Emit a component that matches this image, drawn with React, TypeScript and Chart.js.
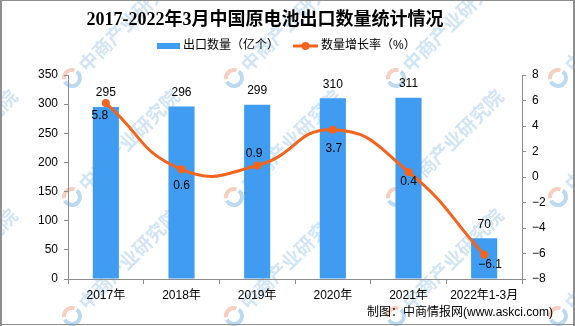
import React, { useEffect, useRef } from 'react';
import { Chart, registerables } from 'chart.js';

Chart.register(...registerables);

const categories = ['2017年', '2018年', '2019年', '2020年', '2021年', '2022年1-3月'];
const exportVolume = [295, 296, 299, 310, 311, 70];
const growthRate = [5.8, 0.6, 0.9, 3.7, 0.4, -6.1];
const volumeAxis = [0, 350, 50];
const rateAxis = [-8, 8, 2];

const TITLE = '2017-2022年3月中国原电池出口数量统计情况';
const LEGEND_BAR = '出口数量（亿个）';
const LEGEND_LINE = '数量增长率（%）';
const SOURCE = '制图：中商情报网(www.askci.com)';
const WATERMARK = '中商产业研究院';

const BAR_COLOR = '#3F9CF0';
const LINE_COLOR = '#F5641E';
const AXIS_COLOR = '#8C8C8C';
const NUM_FONT = "12px 'Liberation Sans', Arial, sans-serif";
const CJK_FONT = "12px 'Liberation Sans', 'Noto Sans CJK SC', sans-serif";

const fmtNum = (v: number) => String(v).replace('-', '−');

// label offsets for the growth-rate labels (relative to point)
const RATE_LABEL_OFFSETS = [
  [-6, 13],
  [0, 16],
  [-3, -12],
  [1, 19],
  [0, 10],
  [6, 10],
];

const WM_COLS = [-90, 72, 234, 396, 558];
const WM_ROWS = [78, 197, 316];

const decorPlugin = {
  id: 'decor',
  beforeDraw(chart: any) {
    const ctx = chart.ctx;
    ctx.save();
    for (const wx of WM_COLS) {
      for (const wy of WM_ROWS) {
        ctx.save();
        ctx.lineWidth = 4;
        ctx.strokeStyle = '#F6CFC0';
        ctx.beginPath();
        ctx.arc(wx, wy, 8, Math.PI * 0.95, Math.PI * 1.6);
        ctx.stroke();
        ctx.strokeStyle = '#BCD9F0';
        ctx.beginPath();
        ctx.arc(wx, wy, 8, Math.PI * 1.7, Math.PI * 2.85);
        ctx.stroke();
        ctx.translate(wx, wy);
        ctx.rotate(-Math.PI / 4);
        ctx.fillStyle = '#D2E5F5';
        ctx.font = "bold 19px 'Noto Sans CJK SC', sans-serif";
        ctx.textAlign = 'left';
        ctx.textBaseline = 'middle';
        ctx.fillText(WATERMARK, 14, 0);
        ctx.restore();
      }
    }
    ctx.restore();
  },
  afterDatasetsDraw(chart: any) {
    const ctx = chart.ctx;
    ctx.save();
    ctx.fillStyle = '#000';
    ctx.font = NUM_FONT;
    ctx.textAlign = 'center';
    ctx.textBaseline = 'middle';
    const barMeta = chart.getDatasetMeta(0);
    barMeta.data.forEach((el: any, i: number) => {
      ctx.fillText(fmtNum(exportVolume[i]), el.x, el.y - 14);
    });
    const lineMeta = chart.getDatasetMeta(1);
    lineMeta.data.forEach((el: any, i: number) => {
      const [dx, dy] = RATE_LABEL_OFFSETS[i];
      ctx.fillText(fmtNum(growthRate[i]), el.x + dx, el.y + dy);
    });
    ctx.restore();
  },
  afterDraw(chart: any) {
    const ctx = chart.ctx;
    const W = chart.width;
    const H = chart.height;
    ctx.save();
    // title
    ctx.fillStyle = '#000';
    ctx.textAlign = 'center';
    ctx.textBaseline = 'middle';
    ctx.font = "bold 18px 'Liberation Serif', 'Noto Sans CJK SC', serif";
    ctx.fillText(TITLE, 265, 20);
    // legend
    ctx.fillStyle = BAR_COLOR;
    ctx.fillRect(157, 43, 23, 6);
    ctx.fillStyle = '#000';
    ctx.font = CJK_FONT;
    ctx.textAlign = 'left';
    ctx.fillText(LEGEND_BAR, 183, 46);
    ctx.strokeStyle = LINE_COLOR;
    ctx.lineWidth = 3;
    ctx.beginPath();
    ctx.moveTo(293, 46);
    ctx.lineTo(318, 46);
    ctx.stroke();
    ctx.fillStyle = LINE_COLOR;
    ctx.beginPath();
    ctx.arc(305.5, 46, 4, 0, Math.PI * 2);
    ctx.fill();
    ctx.fillStyle = '#000';
    ctx.fillText(LEGEND_LINE, 321, 46);
    // source
    ctx.textAlign = 'right';
    ctx.fillText(SOURCE, 553, 313);
    // border
    ctx.fillStyle = '#8E8E8E';
    ctx.fillRect(0, 0, W, 1);
    ctx.fillRect(0, 0, 2, H);
    ctx.fillRect(W - 2, 0, 2, H);
    ctx.fillRect(0, H - 2, W, 1);
    ctx.restore();
  },
};

export default function App() {
  const ref = useRef<HTMLCanvasElement | null>(null);
  useEffect(() => {
    if (!ref.current) return;
    const chart = new Chart(ref.current, {
      type: 'bar',
      data: {
        labels: categories,
        datasets: [
          {
            type: 'bar',
            label: LEGEND_BAR,
            data: exportVolume,
            yAxisID: 'y',
            backgroundColor: BAR_COLOR,
            barPercentage: 0.345,
            categoryPercentage: 1,
            order: 2,
          } as any,
          {
            type: 'line',
            label: LEGEND_LINE,
            data: growthRate,
            yAxisID: 'y1',
            borderColor: LINE_COLOR,
            backgroundColor: LINE_COLOR,
            borderWidth: 3,
            pointRadius: 4,
            pointBorderWidth: 0,
            tension: 0.5,
            order: 1,
          } as any,
        ],
      },
      options: {
        responsive: false,
        animation: false,
        devicePixelRatio: 1,
        layout: { padding: { top: 75, left: 0, right: 0, bottom: 0 } },
        plugins: {
          legend: { display: false },
          title: { display: false },
          tooltip: { enabled: false },
        },
        scales: {
          x: {
            offset: true,
            grid: {
              display: true,
              offset: true,
              drawOnChartArea: false,
              drawTicks: true,
              tickLength: 5,
              color: AXIS_COLOR,
            },
            border: { color: AXIS_COLOR, width: 1 },
            ticks: { color: '#000', font: { family: "'Liberation Sans', 'Noto Sans CJK SC', sans-serif", size: 12 }, padding: 4, maxRotation: 0, autoSkip: false },
            afterFit: (s: any) => { s.height = 47; },
          },
          y: {
            position: 'left',
            min: volumeAxis[0],
            max: volumeAxis[1],
            ticks: { stepSize: volumeAxis[2], color: '#000', font: { family: "'Liberation Sans', sans-serif", size: 12 }, padding: 6 },
            grid: { drawOnChartArea: false, tickLength: 4, color: AXIS_COLOR },
            border: { color: AXIS_COLOR, width: 1 },
            afterFit: (s: any) => { s.width = 68; },
          },
          y1: {
            position: 'right',
            min: rateAxis[0],
            max: rateAxis[1],
            ticks: { stepSize: rateAxis[2], color: '#000', font: { family: "'Liberation Sans', sans-serif", size: 12 }, padding: 6, callback: (v: any) => fmtNum(Number(v)) },
            grid: { drawOnChartArea: false, tickLength: 4, color: AXIS_COLOR },
            border: { color: AXIS_COLOR, width: 1 },
            afterFit: (s: any) => { s.width = 53; },
          },
        },
      },
      plugins: [decorPlugin],
    });
    return () => chart.destroy();
  }, []);
  return (
    <div style={{ position: 'absolute', left: 0, top: 0, width: 575, height: 326 }}>
      <canvas ref={ref} width={575} height={326} />
    </div>
  );
}
